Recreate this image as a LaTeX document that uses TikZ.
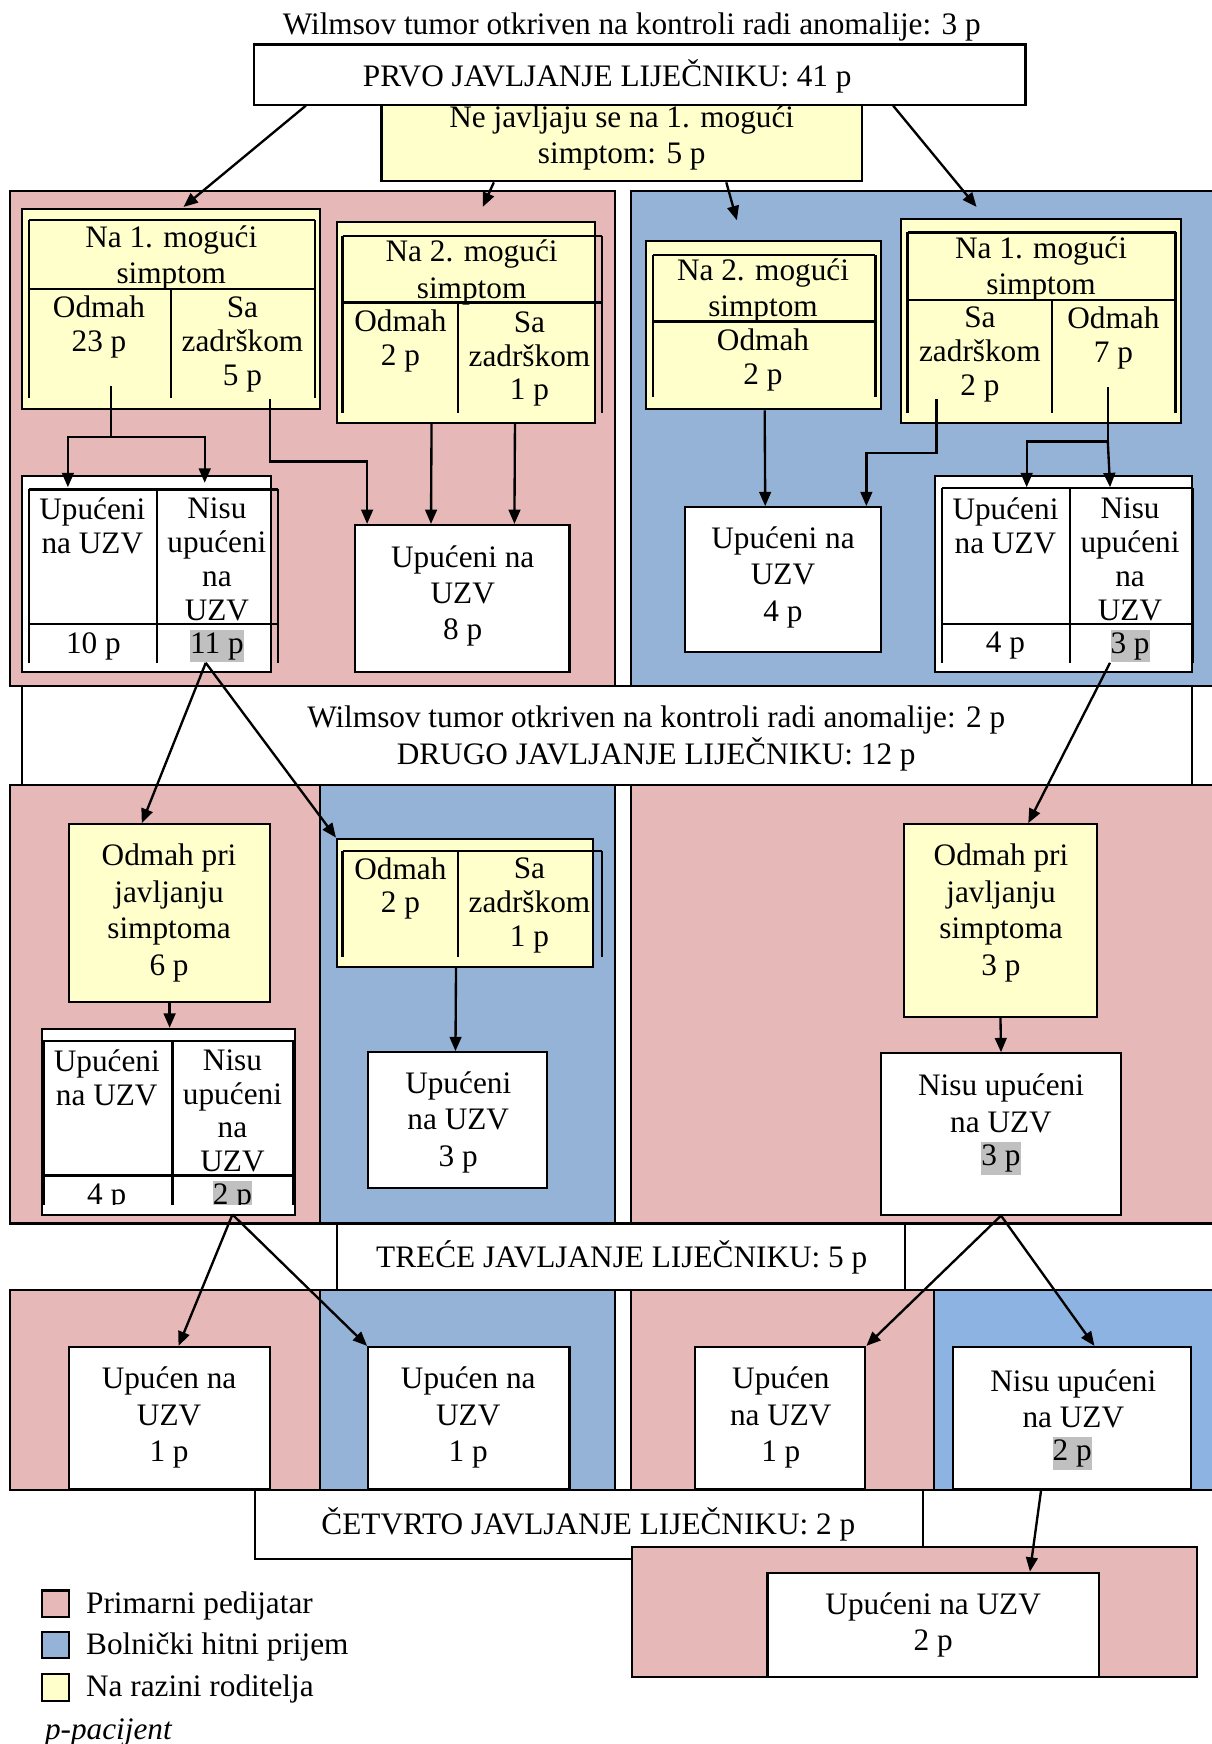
\documentclass[tikz,border=0pt]{standalone}
\usepackage{fontspec}
\setmainfont{Liberation Serif}
\usetikzlibrary{positioning,calc,fit,arrows.meta}

\definecolor{pedijatar}{HTML}{E6B9B8}
\definecolor{hitni}{HTML}{95B3D7}
\definecolor{hitniB}{HTML}{8DB3E2}
\definecolor{roditelj}{HTML}{FFFFCC}
\definecolor{oznaka}{HTML}{C0C0C0}

\newcommand{\fsz}{\fontsize{12}{14}\selectfont}
\newcommand{\fszt}{\fontsize{12}{13}\selectfont}

\begin{document}
\begin{tikzpicture}[x=0.015cm,y=-0.015cm, line join=miter,
	panel/.style={draw, line width=0.8pt},
	box/.style={draw, line width=0.8pt, fill=white, inner sep=0pt},
	ybox/.style={box, fill=roditelj},
	txt/.style={align=center, font=\fsz, inner sep=0pt, yshift=-1.2pt},
	cell/.style={txt, font=\fszt},
	tab/.style={line width=0.9pt},
	arr/.style={-{Triangle[length=5.5pt,width=4.5pt]}, line width=0.9pt},
	hl/.style={txt, fill=oznaka, text height=9pt, text depth=3.5pt}]
	
	\useasboundingbox (0,0) rectangle (1089,1568);
	
	% ---- pozadine (prvo javljanje)
	\draw[panel, fill=pedijatar] (9,172) rectangle (553,617);
	\draw[panel, fill=hitni] (567,172) rectangle (1095,617);
	
	% ---- vrh
	\node[txt] (wilms1) at (568,21) {Wilmsov tumor otkriven na kontroli radi anomalije: 3 p};
	\node[ybox, fit={(343,80) (775,163)}] (ne) {};
	\node[txt] (neT) at (559,121) {Ne javljaju se na 1. mogući\\simptom: 5 p};
	\node[box, fit={(228,40) (922,94)}] (prvo) {};
	\node[txt] (prvoT) at (546,66) {PRVO JAVLJANJE LIJEČNIKU: 41 p};
	
	% ---- primarni pedijatar, 1. javljanje
	\node[ybox, fit={(20,188) (288,368)}] (na1) {};
	\draw[tab] (26,198) -- (283,198) (26,260) -- (283,260)
	(26,198) -- (26,358) (283,198) -- (283,358) (154,260) -- (154,358);
	\node[txt] (na1h) at (154,229) {Na 1. mogući\\simptom};
	\node[cell] (na1o) at (89,291) {Odmah\\23 p};
	\node[cell] (na1z) at (218,307) {Sa\\zadrškom\\5 p};
	
	\node[ybox, fit={(303,200) (535,380)}] (na2) {};
	\draw[tab] (308,212) -- (541,212) (308,272) -- (541,272)
	(308,212) -- (308,371) (541,212) -- (541,371) (412,272) -- (412,371);
	\node[txt] (na2h) at (424,242) {Na 2. mogući\\simptom};
	\node[cell] (na2o) at (360,304) {Odmah\\2 p};
	\node[cell] (na2z) at (476,320) {Sa\\zadrškom\\1 p};
	
	\node[box, fit={(20,428) (244,604)}] (uzv1) {};
	\draw[tab] (26,440) -- (250,440) (26,561) -- (250,561)
	(26,440) -- (26,596) (141,440) -- (141,596) (250,440) -- (250,596);
	\node[cell] (uzv1a) at (83,470) {Upućeni\\na UZV};
	\node[cell] (uzv1b) at (195,500) {Nisu\\upućeni\\na\\UZV};
	\node[txt] (uzv1c) at (84,578) {10 p};
	\node[hl] (uzv1d) at (195,578) {11 p};
	
	\node[box, fit={(319,472) (512,604)}] (uzv2) {};
	\node[txt] (uzv2t) at (416,533) {Upućeni na\\UZV\\8 p};
	
	% grananje iz "Odmah 23 p" i "Sa zadrškom 5 p"
	\coordinate (s23) at (100,347);
	\coordinate (k23) at (100,393);
	\draw[tab] (s23) -- (k23);
	\draw[arr] (k23) -| ($(uzv1.north west)+(42,11)$);
	\draw[arr] (k23) -| ($(uzv1.north west)+(165,7)$);
	\coordinate (s5) at (243,359);
	\draw[arr] (s5) -- ++(0,56) -| ($(uzv2.north west)+(12,0)$);
	\draw[arr] ($(na2.south)+(-31,0)$) -- ($(uzv2.north)+(-28,0)$);
	\draw[arr] ($(na2.south)+(44,0)$) -- ($(uzv2.north)+(47,0)$);
	
	% ---- hitni prijem, 1. javljanje
	\node[ybox, fit={(581,217) (792,368)}] (na3) {};
	\draw[tab] (587,229) -- (787,229) (587,289) -- (787,289)
	(587,229) -- (587,357) (787,229) -- (787,357);
	\node[txt] (na3h) at (686,259) {Na 2. mogući\\simptom};
	\node[cell] (na3o) at (686,321) {Odmah\\2 p};
	
	\node[ybox, fit={(810,197) (1062,380)}] (na4) {};
	\draw[tab] (816,209) -- (1057,209) (816,270) -- (1057,270)
	(816,209) -- (816,371) (1057,209) -- (1057,371) (946,270) -- (946,371);
	\node[txt] (na4h) at (936,239) {Na 1. mogući\\simptom};
	\node[cell] (na4z) at (881,316) {Sa\\zadrškom\\2 p};
	\node[cell] (na4o) at (1001,301) {Odmah\\7 p};
	
	\node[box, fit={(616,456) (792,586)}] (uzv3) {};
	\node[txt] (uzv3t) at (704,516) {Upućeni na\\UZV\\4 p};
	
	\node[box, fit={(841,428) (1072,604)}] (uzv4) {};
	\draw[tab] (847,439) -- (1072,439) (847,561) -- (1072,561)
	(847,439) -- (847,596) (962,439) -- (962,596) (1072,439) -- (1072,596);
	\node[cell] (uzv4a) at (904,470) {Upućeni\\na UZV};
	\node[cell] (uzv4b) at (1016,500) {Nisu\\upućeni\\na\\UZV};
	\node[txt] (uzv4c) at (904,578) {4 p};
	\node[hl] (uzv4d) at (1016,578) {3 p};
	
	\draw[arr] ($(na3.south)+(1,0)$) -- ($(uzv3.north)+(-16,0)$);
	\coordinate (s2z) at (842,359);
	\draw[arr] (s2z) -- ++(0,48) -| ($(uzv3.north east)+(-14,0)$);
	\coordinate (s7) at (996,348);
	\coordinate (k7) at (996,397);
	\draw[tab] (s7) -- (k7);
	\draw[arr] (k7) -| ($(uzv4.north west)+(83,11)$);
	\draw[arr] (k7) -- ($(uzv4.north west)+(158,11)$);
	
	% strelice s vrha
	\draw[arr] ($(prvo.south west)+(48,0)$) -- ($(na1.north)+(11,-1)$);
	\draw[arr] ($(ne.south)+(-115,0)$) -- ($(na2.north)+(15,-13)$);
	\draw[arr] ($(ne.south)+(94,0)$) -- ($(na3.north)+(-24,-18)$);
	\draw[arr] ($(prvo.south east)+(-120,0)$) -- ($(na4.north)+(-58,-10)$);
	
	% ---- drugo javljanje
	\node[box, fit={(20,617) (1072,706)}] (band2) {};
	\node[txt] (drugo) at (590,661) {Wilmsov tumor otkriven na kontroli radi anomalije: 2 p\\DRUGO JAVLJANJE LIJEČNIKU: 12 p};
	
	\draw[panel, fill=pedijatar] (9,706) rectangle (288,1100);
	\draw[panel, fill=hitni] (288,706) rectangle (553,1100);
	\draw[panel, fill=pedijatar] (567,706) rectangle (1095,1100);
	
	\node[ybox, fit={(62,741) (243,901)}] (odm1) {};
	\node[txt] (odm1t) at (152,818) {Odmah pri\\javljanju\\simptoma\\6 p};
	\node[box, fit={(38,925) (265,1092)}] (uzv5) {};
	\draw[tab] (39,936) -- (264,936) (39,1057) -- (264,1057)
	(39,936) -- (39,1083) (155,936) -- (155,1083) (264,936) -- (264,1083);
	\node[cell] (uzv5a) at (96,966) {Upućeni\\na UZV};
	\node[cell] (uzv5b) at (209,996) {Nisu\\upućeni\\na\\UZV};
	\begin{scope}
		\clip (39,1057) rectangle (264,1083);
		\node[txt] (uzv5c) at (96,1074) {4 p};
		\node[hl] (uzv5d) at (209,1074) {2 p};
	\end{scope}
	\draw[arr] (odm1.south) -- (odm1.south |- uzv5.north);
	
	\node[ybox, fit={(303,754) (533,869)}] (odm2) {};
	\draw[tab] (308,765) -- (541,765)
	(308,765) -- (308,860) (412,765) -- (412,860) (541,765) -- (541,860);
	\node[cell] (odm2o) at (360,796) {Odmah\\2 p};
	\node[cell] (odm2z) at (476,811) {Sa\\zadrškom\\1 p};
	\node[box, fit={(331,946) (492,1068)}] (uzv6) {};
	\node[txt] (uzv6t) at (412,1006) {Upućeni\\na UZV\\3 p};
	\draw[arr] ($(odm2.south)+(-8,0)$) -- ($(uzv6.north)+(-2,0)$);
	
	\node[ybox, fit={(813,741) (986,914)}] (odm3) {};
	\node[txt] (odm3t) at (900,818) {Odmah pri\\javljanju\\simptoma\\3 p};
	\node[box, fit={(792,947) (1008,1092)}] (nisu1) {};
	\node[txt] (nisu1t) at (900,989) {Nisu upućeni\\na UZV};
	\node[hl] (nisu1p) at (900,1039) {3 p};
	\draw[arr] (odm3.south) -- (nisu1.north);
	
	\draw[arr] ($(uzv1d.south)+(-10,0)$) -- ($(odm1.north)+(-25,0)$);
	\draw[arr] ($(uzv1d.south)+(-10,0)$) -- (odm2.north west);
	\draw[arr] (uzv4d.south west) -- ($(odm3.north)+(25,0)$);
	
	% ---- trece javljanje
	\node[box, fit={(303,1100) (814,1160)}] (trece) {};
	\node[txt] (treceT) at (559,1128) {TREĆE JAVLJANJE LIJEČNIKU: 5 p};
	
	\draw[panel, fill=pedijatar] (9,1160) rectangle (288,1340);
	\draw[panel, fill=hitni] (288,1160) rectangle (553,1340);
	\draw[panel, fill=pedijatar] (567,1160) rectangle (840,1340);
	\draw[panel, fill=hitniB] (840,1160) rectangle (1095,1340);
	
	\node[box, fit={(62,1211) (243,1339)}] (h1) {};
	\node[txt] (h1t) at (152,1272) {Upućen na\\UZV\\1 p};
	\node[box, fit={(331,1211) (512,1339)}] (h2) {};
	\node[txt] (h2t) at (421,1272) {Upućen na\\UZV\\1 p};
	\node[box, fit={(625,1211) (778,1339)}] (h3) {};
	\node[txt] (h3t) at (702,1272) {Upućen\\na UZV\\1 p};
	\node[box, fit={(857,1211) (1071,1339)}] (h4) {};
	\node[txt] (h4t) at (965,1255) {Nisu upućeni\\na UZV};
	\node[hl] (h4p) at (964,1304) {2 p};
	
	\draw[arr] (uzv5d.south) -- ($(h1.north)+(8,0)$);
	\draw[arr] (uzv5d.south) -- (h2.north west);
	\draw[arr] (nisu1.south) -- (h3.north east);
	\draw[arr] (nisu1.south) -- ($(h4.north)+(20,0)$);
	
	% ---- cetvrto javljanje
	\node[box, fit={(229,1340) (830,1402)}] (cetvrto) {};
	\node[txt] (cetvrtoT) at (529,1368) {ČETVRTO JAVLJANJE LIJEČNIKU: 2 p};
	\draw[panel, fill=pedijatar] (568,1391) rectangle (1076,1508);
	\node[box, fit={(690,1414) (988,1508)}] (uzv7) {};
	\node[txt] (uzv7t) at (839,1458) {Upućeni na UZV\\2 p};
	\draw[arr] ($(h4.south)+(-28,0)$) -- ($(uzv7.north)+(87,0)$);
	
	% ---- legenda
	\foreach \y/\c/\t in {1430/pedijatar/Primarni pedijatar,
		1467/hitni/Bolnički hitni prijem,
		1505/roditelj/Na razini roditelja}{
		\draw[panel, fill=\c] (38,\y) rectangle (62,\y+24);
		\node[txt, anchor=west] (leg\c) at (77,\y+11) {\t};
	}
	\node[txt, anchor=west, font=\fsz\itshape] (pac) at (40,1555) {p-pacijent};
	
\end{tikzpicture}
\end{document}
